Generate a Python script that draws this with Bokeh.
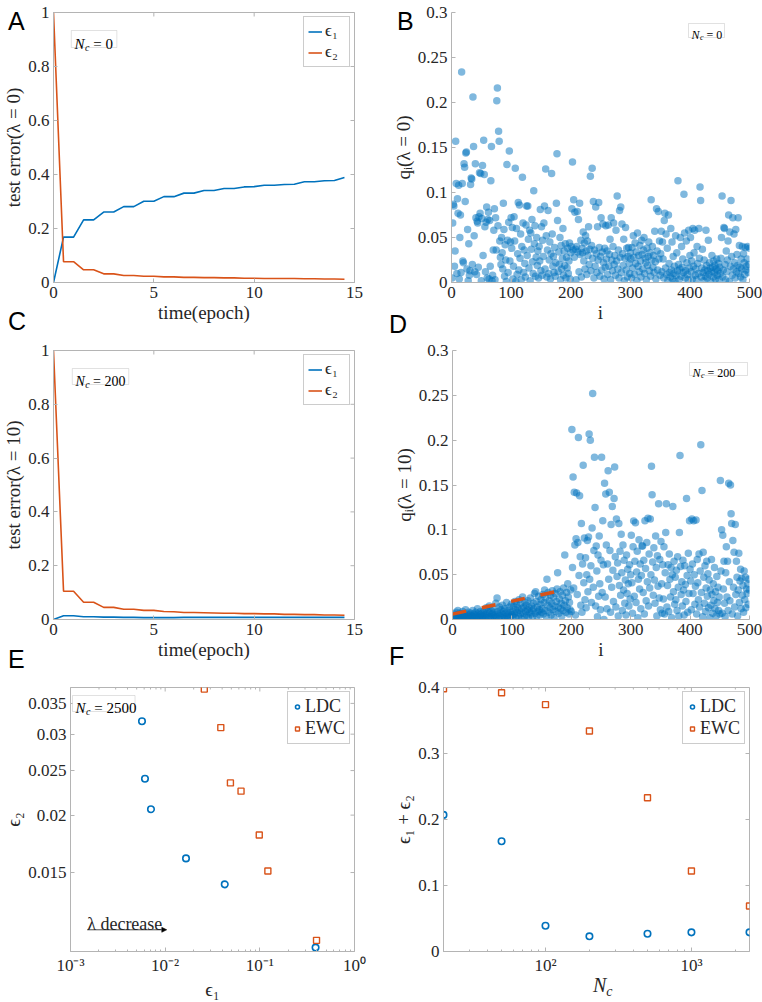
import math
from bokeh.plotting import figure
from bokeh.models import (Range1d, FixedTicker, Label, Legend, Div,
                          LegendItem, BoxAnnotation, Arrow, NormalHead)
from bokeh.layouts import column, row
from bokeh.embed import file_html
from bokeh.resources import INLINE

SERIF = "Liberation Serif"
SANS = "Liberation Sans"
BLUE = "#0072BD"
ORANGE = "#D95319"
AXC = "#b4b4b4"
TXT = "#262626"

# ---------------- data ----------------
epoch = [0, 0.5, 1, 1.5, 2, 2.5, 3, 3.5, 4, 4.5, 5, 5.5, 6, 6.5, 7, 7.5, 8, 8.5, 9, 9.5,
         10, 10.5, 11, 11.5, 12, 12.5, 13, 13.5, 14, 14.5]
a_eps1 = [0, 0.168, 0.168, 0.232, 0.232, 0.261, 0.261, 0.281, 0.281, 0.301, 0.301, 0.318,
          0.318, 0.331, 0.331, 0.341, 0.341, 0.348, 0.348, 0.354, 0.355, 0.360, 0.360, 0.363,
          0.364, 0.373, 0.373, 0.377, 0.378, 0.389]
a_eps2 = [1.0, 0.077, 0.077, 0.047, 0.047, 0.032, 0.032, 0.026, 0.026, 0.023, 0.023, 0.021,
          0.021, 0.019, 0.019, 0.018, 0.018, 0.017, 0.017, 0.016, 0.016, 0.015, 0.015, 0.015,
          0.015, 0.014, 0.014, 0.013, 0.013, 0.012]
c_eps1 = [0, 0.014, 0.014, 0.010, 0.010, 0.009, 0.009, 0.008, 0.008, 0.007, 0.007, 0.007,
          0.007, 0.008, 0.008, 0.008, 0.008, 0.008, 0.008, 0.008, 0.008, 0.008, 0.008, 0.008,
          0.008, 0.008, 0.008, 0.008, 0.008, 0.008]
c_eps2 = [1.0, 0.105, 0.105, 0.064, 0.064, 0.045, 0.045, 0.038, 0.038, 0.034, 0.034, 0.030,
          0.029, 0.026, 0.026, 0.025, 0.024, 0.023, 0.023, 0.022, 0.022, 0.021, 0.021, 0.019,
          0.019, 0.018, 0.018, 0.017, 0.017, 0.016]

q_nc0 = [
    0.005, 0.066, 0.087, 0.085, 0.018, 0.035, 0.157, 0.110, 0.010, 0.093,
    0.077, 0.108, 0.004, 0.050, 0.075, 0.011, 0.234, 0.110, 0.024, 0.022,
    0.132, 0.128, 0.090, 0.144, 0.145, 0.015, 0.059, 0.002, 0.043, 0.008,
    0.013, 0.109, 0.116, 0.115, 0.020, 0.206, 0.151, 0.052, 0.012, 0.132,
    0.072, 0.009, 0.068, 0.066, 0.017, 0.073, 0.122, 0.077, 0.121, 0.002,
    0.071, 0.130, 0.030, 0.158, 0.120, 0.062, 0.012, 0.067, 0.084, 0.005,
    0.070, 0.078, 0.004, 0.069, 0.018, 0.113, 0.151, 0.002, 0.008, 0.036,
    0.058, 0.082, 0.003, 0.072, 0.036, 0.202, 0.216, 0.063, 0.168, 0.157,
    0.046, 0.028, 0.020, 0.050, 0.033, 0.015, 0.088, 0.059, 0.007, 0.042,
    0.025, 0.001, 0.131, 0.047, 0.011, 0.067, 0.146, 0.024, 0.045, 0.072,
    0.038, 0.061, 0.004, 0.018, 0.073, 0.046, 0.127, 0.001, 0.060, 0.009,
    0.032, 0.089, 0.014, 0.086, 0.027, 0.054, 0.003, 0.040, 0.117, 0.066,
    0.011, 0.036, 0.021, 0.006, 0.064, 0.085, 0.030, 0.085, 0.048, 0.016,
    0.058, 0.002, 0.055, 0.037, 0.070, 0.023, 0.010, 0.102, 0.043, 0.063,
    0.007, 0.028, 0.050, 0.019, 0.035, 0.005, 0.040, 0.024, 0.081, 0.013,
    0.062, 0.008, 0.047, 0.029, 0.066, 0.085, 0.015, 0.126, 0.052, 0.006,
    0.036, 0.080, 0.010, 0.025, 0.045, 0.004, 0.032, 0.121, 0.054, 0.018,
    0.029, 0.011, 0.039, 0.007, 0.022, 0.088, 0.143, 0.069, 0.012, 0.034,
    0.020, 0.050, 0.003, 0.041, 0.015, 0.027, 0.060, 0.008, 0.035, 0.019,
    0.043, 0.005, 0.028, 0.016, 0.038, 0.010, 0.024, 0.044, 0.004, 0.033,
    0.040, 0.082, 0.134, 0.036, 0.092, 0.028, 0.078, 0.037, 0.003, 0.040,
    0.079, 0.034, 0.070, 0.012, 0.088, 0.031, 0.047, 0.006, 0.038, 0.033,
    0.056, 0.024, 0.044, 0.015, 0.052, 0.035, 0.009, 0.046, 0.030, 0.062,
    0.020, 0.037, 0.118, 0.013, 0.041, 0.127, 0.027, 0.090, 0.005, 0.036,
    0.018, 0.084, 0.032, 0.011, 0.062, 0.025, 0.089, 0.039, 0.007, 0.029,
    0.072, 0.014, 0.034, 0.065, 0.022, 0.004, 0.038, 0.017, 0.063, 0.026,
    0.035, 0.009, 0.064, 0.018, 0.031, 0.048, 0.003, 0.072, 0.025, 0.013,
    0.040, 0.066, 0.020, 0.030, 0.008, 0.058, 0.024, 0.096, 0.015, 0.036,
    0.005, 0.080, 0.028, 0.084, 0.011, 0.065, 0.032, 0.019, 0.048, 0.002,
    0.027, 0.061, 0.014, 0.038, 0.006, 0.029, 0.039, 0.021, 0.010, 0.033,
    0.026, 0.005, 0.039, 0.016, 0.052, 0.028, 0.009, 0.044, 0.021, 0.034,
    0.002, 0.055, 0.018, 0.030, 0.012, 0.041, 0.024, 0.006, 0.047, 0.031,
    0.015, 0.036, 0.050, 0.010, 0.027, 0.022, 0.003, 0.038, 0.019, 0.029,
    0.045, 0.013, 0.033, 0.007, 0.092, 0.025, 0.040, 0.017, 0.030, 0.011,
    0.057, 0.023, 0.004, 0.082, 0.035, 0.014, 0.079, 0.026, 0.046, 0.008,
    0.032, 0.057, 0.012, 0.045, 0.026, 0.005, 0.069, 0.077, 0.016, 0.054,
    0.009, 0.038, 0.002, 0.075, 0.021, 0.011, 0.006, 0.060, 0.014, 0.045,
    0.004, 0.029, 0.010, 0.018, 0.001, 0.052, 0.008, 0.033, 0.013, 0.113,
    0.020, 0.003, 0.015, 0.050, 0.007, 0.040, 0.017, 0.026, 0.011, 0.098,
    0.055, 0.005, 0.013, 0.046, 0.022, 0.009, 0.003, 0.058, 0.016, 0.030,
    0.050, 0.012, 0.024, 0.004, 0.060, 0.018, 0.033, 0.058, 0.008, 0.015,
    0.003, 0.040, 0.021, 0.010, 0.060, 0.027, 0.106, 0.091, 0.006, 0.016,
    0.037, 0.011, 0.002, 0.025, 0.014, 0.007, 0.058, 0.019, 0.005, 0.013,
    0.047, 0.009, 0.022, 0.016, 0.001, 0.012, 0.030, 0.017, 0.006, 0.024,
    0.011, 0.019, 0.004, 0.015, 0.026, 0.008, 0.013, 0.021, 0.003, 0.017,
    0.010, 0.027, 0.050, 0.096, 0.006, 0.014, 0.061, 0.060, 0.020, 0.003,
    0.035, 0.012, 0.025, 0.046, 0.075, 0.001, 0.056, 0.018, 0.091, 0.029,
    0.008, 0.072, 0.015, 0.054, 0.022, 0.005, 0.059, 0.012, 0.031, 0.019,
    0.072, 0.010, 0.041, 0.017, 0.006, 0.026, 0.015, 0.040, 0.003, 0.032,
    0.022, 0.009, 0.039, 0.014, 0.018, 0.026, 0.040, 0.011, 0.020, 0.038,
]

q_nc200 = [
    0.004, 0.002, 0.006, 0.001, 0.003, 0.008, 0.002, 0.005, 0.010, 0.001,
    0.004, 0.007, 0.002, 0.003, 0.006, 0.001, 0.009, 0.004, 0.002, 0.005,
    0.003, 0.011, 0.001, 0.006, 0.004, 0.002, 0.008, 0.003, 0.005, 0.001,
    0.007, 0.004, 0.002, 0.010, 0.003, 0.006, 0.001, 0.005, 0.008, 0.002,
    0.004, 0.012, 0.003, 0.007, 0.001, 0.005, 0.009, 0.002, 0.006, 0.004,
    0.003, 0.008, 0.001, 0.011, 0.005, 0.002, 0.013, 0.006, 0.004, 0.009,
    0.002, 0.015, 0.007, 0.003, 0.010, 0.001, 0.006, 0.012, 0.004, 0.008,
    0.002, 0.005, 0.018, 0.003, 0.024, 0.009, 0.006, 0.001, 0.014, 0.004,
    0.011, 0.007, 0.002, 0.016, 0.005, 0.009, 0.003, 0.012, 0.001, 0.007,
    0.019, 0.004, 0.010, 0.002, 0.006, 0.014, 0.003, 0.008, 0.017, 0.005,
    0.009, 0.003, 0.015, 0.006, 0.020, 0.011, 0.002, 0.017, 0.008, 0.013,
    0.004, 0.022, 0.010, 0.006, 0.018, 0.001, 0.012, 0.025, 0.007, 0.014,
    0.003, 0.019, 0.009, 0.016, 0.005, 0.011, 0.021, 0.002, 0.013, 0.008,
    0.024, 0.006, 0.015, 0.010, 0.003, 0.018, 0.012, 0.029, 0.007, 0.031,
    0.020, 0.004, 0.014, 0.009, 0.026, 0.011, 0.005, 0.017, 0.022, 0.008,
    0.012, 0.028, 0.006, 0.019, 0.033, 0.010, 0.024, 0.003, 0.045, 0.016,
    0.030, 0.008, 0.021, 0.013, 0.027, 0.005, 0.018, 0.032, 0.011, 0.025,
    0.002, 0.015, 0.029, 0.009, 0.020, 0.034, 0.052, 0.014, 0.007, 0.023,
    0.031, 0.012, 0.018, 0.004, 0.027, 0.010, 0.035, 0.016, 0.072, 0.021,
    0.008, 0.030, 0.013, 0.040, 0.025, 0.006, 0.019, 0.011, 0.033, 0.009,
    0.212, 0.058, 0.159, 0.035, 0.142, 0.083, 0.005, 0.090, 0.141, 0.028,
    0.086, 0.203, 0.049, 0.138, 0.070, 0.016, 0.107, 0.008, 0.062, 0.172,
    0.041, 0.091, 0.022, 0.069, 0.013, 0.050, 0.088, 0.031, 0.092, 0.207,
    0.045, 0.200, 0.060, 0.019, 0.102, 0.252, 0.036, 0.077, 0.181, 0.125,
    0.015, 0.082, 0.054, 0.003, 0.072, 0.026, 0.093, 0.040, 0.011, 0.066,
    0.181, 0.030, 0.110, 0.061, 0.000, 0.152, 0.025, 0.140, 0.083, 0.012,
    0.062, 0.166, 0.045, 0.142, 0.077, 0.008, 0.106, 0.036, 0.126, 0.055,
    0.020, 0.135, 0.170, 0.070, 0.014, 0.112, 0.048, 0.063, 0.004, 0.107,
    0.038, 0.076, 0.027, 0.095, 0.052, 0.010, 0.083, 0.033, 0.066, 0.018,
    0.044, 0.005, 0.072, 0.029, 0.056, 0.040, 0.015, 0.061, 0.023, 0.050,
    0.094, 0.041, 0.007, 0.081, 0.110, 0.026, 0.065, 0.108, 0.019, 0.053,
    0.076, 0.002, 0.045, 0.089, 0.034, 0.062, 0.012, 0.049, 0.082, 0.082,
    0.030, 0.066, 0.006, 0.110, 0.057, 0.021, 0.086, 0.042, 0.113, 0.015,
    0.073, 0.035, 0.112, 0.050, 0.171, 0.139, 0.064, 0.027, 0.080, 0.044,
    0.018, 0.093, 0.058, 0.004, 0.071, 0.037, 0.129, 0.024, 0.067, 0.011,
    0.087, 0.040, 0.007, 0.061, 0.023, 0.081, 0.006, 0.052, 0.097, 0.129,
    0.014, 0.038, 0.061, 0.009, 0.073, 0.045, 0.025, 0.058, 0.002, 0.050,
    0.126, 0.031, 0.065, 0.017, 0.047, 0.022, 0.055, 0.010, 0.070, 0.036,
    0.004, 0.097, 0.183, 0.059, 0.028, 0.042, 0.015, 0.066, 0.033, 0.005,
    0.060, 0.039, 0.020, 0.135, 0.049, 0.008, 0.074, 0.029, 0.110, 0.056,
    0.043, 0.011, 0.112, 0.062, 0.029, 0.110, 0.050, 0.017, 0.037, 0.111,
    0.006, 0.067, 0.041, 0.022, 0.073, 0.014, 0.054, 0.195, 0.030, 0.144,
    0.003, 0.075, 0.047, 0.018, 0.060, 0.009, 0.035, 0.065, 0.026, 0.051,
    0.013, 0.044, 0.002, 0.033, 0.016, 0.067, 0.028, 0.007, 0.040, 0.021,
    0.058, 0.012, 0.031, 0.004, 0.048, 0.019, 0.036, 0.010, 0.025, 0.006,
    0.155, 0.054, 0.100, 0.007, 0.094, 0.034, 0.065, 0.018, 0.003, 0.052,
    0.081, 0.025, 0.065, 0.010, 0.152, 0.042, 0.021, 0.150, 0.118, 0.107,
    0.006, 0.088, 0.036, 0.075, 0.014, 0.106, 0.028, 0.065, 0.047, 0.004,
    0.033, 0.074, 0.019, 0.043, 0.056, 0.012, 0.046, 0.027, 0.038, 0.008,
    0.054, 0.022, 0.047, 0.013, 0.034, 0.029, 0.040, 0.017, 0.045, 0.033,
]
idx = list(range(1, 501))

fit_i = [0, 180]
fit_q = [0.006, 0.032]

e_ldc_eps1 = [0.00569, 0.00612, 0.00708, 0.0166, 0.0426, 0.388]
e_ldc_eps2 = [0.0320, 0.0240, 0.0206, 0.0161, 0.01414, 0.0103]
e_ewc_eps1 = [0.0259, 0.0387, 0.0489, 0.0633, 0.0986, 0.1216, 0.397]
e_ewc_eps2 = [0.0376, 0.0310, 0.0235, 0.02255, 0.0181, 0.01512, 0.01068]

nc_vals = [20, 50, 100, 200, 500, 1000, 2500]
f_ldc = [0.207, 0.167, 0.039, 0.023, 0.027, 0.029, 0.029]
f_ewc = [0.398, 0.392, 0.374, 0.334, 0.233, 0.122, 0.069]

# tick definitions
t_ticks = [0, 5, 10, 15]
err_ticks = [0, 0.2, 0.4, 0.6, 0.8, 1]
i_ticks = [0, 100, 200, 300, 400, 500]
q_ticks = [0, 0.05, 0.1, 0.15, 0.2, 0.25, 0.3]
e1_ticks = [0.001, 0.01, 0.1, 1]
e1_labels = ["10⁻³", "10⁻²", "10⁻¹", "10⁰"]
e1_minor = [m * d for d in (0.001, 0.01, 0.1) for m in range(2, 10)]
e2_ticks = [0.015, 0.02, 0.025, 0.03, 0.035]
nc_ticks = [100, 1000]
nc_labels = ["10²", "10³"]
nc_minor = [20, 30, 40, 50, 60, 70, 80, 90, 200, 300, 400, 500, 600, 700, 800, 900, 2000]
sum_ticks = [0, 0.1, 0.2, 0.3, 0.4]
panel_letters = ["A", "B", "C", "D", "E", "F"]


def fmt(v):
    return format(v, "g")


def style_axis(ax, ticks, labels, minor, standoff):
    ax.ticker = FixedTicker(ticks=ticks, minor_ticks=minor or [])
    ax.major_label_overrides = {t: l for t, l in zip(ticks, labels)}
    ax.major_label_text_font = SERIF
    ax.major_label_text_font_size = "17px"
    ax.major_label_text_color = TXT
    ax.major_label_standoff = standoff
    ax.axis_line_color = AXC
    ax.major_tick_line_color = AXC
    ax.minor_tick_line_color = AXC if minor else None
    ax.major_tick_in = 4
    ax.major_tick_out = 0
    ax.minor_tick_in = 2
    ax.minor_tick_out = 0
    ax.axis_label_text_font = SERIF
    ax.axis_label_text_font_size = "19px"
    ax.axis_label_text_font_style = "normal"
    ax.axis_label_text_color = TXT
    ax.axis_label_standoff = 1


def mirror_ticks(p, spec):
    """inward tick marks on the top and right edges (box style)"""
    top = spec["yr"][1]
    right = spec["xr"][1]
    p.scatter(spec["xt"], [top] * len(spec["xt"]), marker="dash", angle=math.pi / 2,
              size=8, line_color=AXC, line_width=1)
    p.scatter([right] * len(spec["yt"]), spec["yt"], marker="dash", size=8,
              line_color=AXC, line_width=1)
    if spec.get("xm"):
        p.scatter(spec["xm"], [top] * len(spec["xm"]), marker="dash", angle=math.pi / 2,
                  size=4, line_color=AXC, line_width=1)


def make_panel(spec):
    p = figure(width=spec["w"], height=spec["h"],
               x_range=Range1d(*spec["xr"]), y_range=Range1d(*spec["yr"]),
               x_axis_type="log" if spec["xlog"] else "linear",
               y_axis_type="log" if spec["ylog"] else "linear",
               output_backend="svg", toolbar_location=None, tools="",
               min_border_left=spec["bl"], min_border_right=spec["br"],
               min_border_top=spec["bt"], min_border_bottom=spec["bb"])
    p.grid.visible = False
    p.background_fill_color = "white"
    p.border_fill_color = "white"
    p.outline_line_color = AXC if spec["box"] else None
    xa = p.below[0]
    ya = p.left[0]
    style_axis(xa, spec["xt"], spec["xl"], spec.get("xm"), 4)
    style_axis(ya, spec["yt"], spec["yl"], spec.get("ym"), 4)
    xa.axis_label = spec["xlabel"]
    ya.axis_label = spec["ylabel"]
    if spec["box"]:
        mirror_ticks(p, spec)
    spec["W"] = spec["w"] - spec["bl"] - spec["br"]
    spec["H"] = spec["h"] - spec["bt"] - spec["bb"]
    return p


def xd(spec, dx):
    a, b = spec["xr"]
    f = dx / spec["W"]
    if spec["xlog"]:
        return 10 ** (math.log10(a) + f * (math.log10(b) - math.log10(a)))
    return a + f * (b - a)


def yd(spec, dy):
    a, b = spec["yr"]
    f = dy / spec["H"]
    if spec["ylog"]:
        return 10 ** (math.log10(b) - f * (math.log10(b) - math.log10(a)))
    return b - f * (b - a)


def nc_box(p, spec, left, top, w, h, val, fs):
    p.add_layout(BoxAnnotation(left=xd(spec, left), right=xd(spec, left + w),
                               top=yd(spec, top), bottom=yd(spec, top + h),
                               fill_color="white", fill_alpha=1.0,
                               line_color="#9a9a9a", line_width=1))
    x0 = spec["xr"][0]
    y0 = spec["yr"][1]
    bx = left + 3
    base = -(top + h * 0.80)
    p.add_layout(Label(x=x0, y=y0, x_offset=bx, y_offset=base, text="N",
                       text_font=SERIF, text_font_style="italic", text_font_size=f"{fs}px",
                       text_color="black", text_baseline="alphabetic"))
    p.add_layout(Label(x=x0, y=y0, x_offset=bx + fs * 0.70, y_offset=base - fs * 0.22, text="c",
                       text_font=SERIF, text_font_style="italic",
                       text_font_size=f"{round(fs * 0.68)}px",
                       text_color="black", text_baseline="alphabetic"))
    p.add_layout(Label(x=x0, y=y0, x_offset=bx + fs * 1.25, y_offset=base, text="= " + val,
                       text_font=SERIF, text_font_size=f"{fs}px",
                       text_color="black", text_baseline="alphabetic"))


def legend(p, items, fs, gw):
    lg = Legend(items=items, location="top_right", margin=4, padding=4, spacing=1,
                label_text_font=SERIF, label_text_font_size=f"{fs}px",
                label_text_color=TXT, glyph_width=gw, glyph_height=15,
                label_standoff=3, label_height=15,
                border_line_color="#9a9a9a", background_fill_alpha=1.0)
    p.add_layout(lg)


# ---------------- panel A ----------------
sA = dict(w=381, h=335, bl=50, br=27, bt=12, bb=53, xr=(0, 15), yr=(0, 1), xlog=False,
          ylog=False, box=True, xt=t_ticks, xl=[fmt(v) for v in t_ticks], yt=err_ticks,
          yl=[fmt(v) for v in err_ticks], xlabel="time(epoch)", ylabel="test error(λ = 0)")
pA = make_panel(sA)
lA1 = pA.line(epoch, a_eps1, line_color=BLUE, line_width=1.6)
lA2 = pA.line(epoch, a_eps2, line_color=ORANGE, line_width=1.6)
legend(pA, [LegendItem(label="ϵ₁", renderers=[lA1]), LegendItem(label="ϵ₂", renderers=[lA2])], 17, 14)
nc_box(pA, sA, 18, 18, 46, 17, "0", 15)

# ---------------- panel B ----------------
sB = dict(w=381, h=335, bl=70, br=13, bt=12, bb=53, xr=(0, 500), yr=(0, 0.3), xlog=False,
          ylog=False, box=False, xt=i_ticks, xl=[fmt(v) for v in i_ticks], yt=q_ticks,
          yl=[fmt(v) for v in q_ticks], xlabel="i", ylabel="qᵢ(λ = 0)")
pB = make_panel(sB)
pB.scatter(idx, q_nc0, size=7.5, fill_color=BLUE, fill_alpha=0.5, line_color=None)
nc_box(pB, sB, sB["W"] - 25 - 36, 11, 36, 14, "0", 12)

# ---------------- panel C ----------------
sC = dict(w=381, h=333, bl=50, br=27, bt=15, bb=49, xr=(0, 15), yr=(0, 1), xlog=False,
          ylog=False, box=True, xt=t_ticks, xl=[fmt(v) for v in t_ticks], yt=err_ticks,
          yl=[fmt(v) for v in err_ticks], xlabel="time(epoch)", ylabel="test error(λ = 10)")
pC = make_panel(sC)
lC1 = pC.line(epoch, c_eps1, line_color=BLUE, line_width=1.6)
lC2 = pC.line(epoch, c_eps2, line_color=ORANGE, line_width=1.6)
legend(pC, [LegendItem(label="ϵ₁", renderers=[lC1]), LegendItem(label="ϵ₂", renderers=[lC2])], 17, 14)
nc_box(pC, sC, 19, 18, 57, 16, "200", 14)

# ---------------- panel D ----------------
sD = dict(w=381, h=333, bl=71, br=13, bt=15, bb=49, xr=(0, 500), yr=(0, 0.3), xlog=False,
          ylog=False, box=False, xt=i_ticks, xl=[fmt(v) for v in i_ticks], yt=q_ticks,
          yl=[fmt(v) for v in q_ticks], xlabel="i", ylabel="qᵢ(λ = 10)")
pD = make_panel(sD)
pD.scatter(idx, q_nc200, size=7.5, fill_color=BLUE, fill_alpha=0.5, line_color=None)
pD.line(fit_i, fit_q, line_color=ORANGE, line_width=3.5, line_dash="14 16")
nc_box(pD, sD, sD["W"] - 2 - 58, 12, 58, 13, "200", 12)

# ---------------- panel E ----------------
sE = dict(w=381, h=334, bl=68, br=27, bt=19, bb=51, xr=(0.001, 1), yr=(0.0101, 0.0379),
          xlog=True, ylog=True, box=True, xt=e1_ticks, xl=e1_labels, xm=e1_minor,
          yt=e2_ticks, yl=[fmt(v) for v in e2_ticks], xlabel="ϵ₁", ylabel="ϵ₂")
pE = make_panel(sE)
rE1 = pE.scatter(e_ldc_eps1, e_ldc_eps2, marker="circle", size=6.5, fill_color=None,
                 line_color=BLUE, line_width=1.6)
rE2 = pE.scatter(e_ewc_eps1, e_ewc_eps2, marker="square", size=6, fill_color=None,
                 line_color=ORANGE, line_width=1.4)
legend(pE, [LegendItem(label="LDC", renderers=[rE1]), LegendItem(label="EWC", renderers=[rE2])], 18, 10)
nc_box(pE, sE, 2, 8, 63, 16, "2500", 15)
pE.add_layout(Arrow(end=NormalHead(size=5, fill_color="black", line_color="black", line_width=0.5),
                    x_start=0.0015, y_start=0.01126, x_end=0.0104, y_end=0.01126,
                    line_color="black", line_width=0.7))
pE.add_layout(Label(x=0.0015, y=0.01158, text="λ decrease", text_font=SERIF,
                    text_font_size="18px", text_color=TXT, text_baseline="alphabetic"))

# ---------------- panel F ----------------
sF = dict(w=381, h=334, bl=62, br=13, bt=19, bb=50, xr=(20, 2500), yr=(0, 0.4),
          xlog=True, ylog=False, box=True, xt=nc_ticks, xl=nc_labels, xm=nc_minor,
          yt=sum_ticks, yl=[fmt(v) for v in sum_ticks], xlabel=None, ylabel="ϵ₁ + ϵ₂")
pF = make_panel(sF)
rF1 = pF.scatter(nc_vals, f_ldc, marker="circle", size=6.5, fill_color=None,
                 line_color=BLUE, line_width=1.6)
rF2 = pF.scatter(nc_vals, f_ewc, marker="square", size=6, fill_color=None,
                 line_color=ORANGE, line_width=1.4)
legend(pF, [LegendItem(label="LDC", renderers=[rF1]), LegendItem(label="EWC", renderers=[rF2])], 18, 10)

# ---------------- overlay texts outside the plot frames ----------------
letter_pos = [(3, 4), (392, 4), (3, 304), (384, 307), (3, 642), (384, 639)]
spans = []
for t, (lx, ty) in zip(panel_letters, letter_pos):
    spans.append(
        f'<span style="position:absolute;left:{lx}px;top:{ty}px;font-family:\'{SANS}\';'
        f'font-size:25px;line-height:1;color:#000;white-space:nowrap;">{t}</span>')
spans.append(
    f'<span style="position:absolute;left:588px;top:970px;font-family:\'{SERIF}\';'
    f'font-size:20px;line-height:1;font-style:italic;color:{TXT};white-space:nowrap;">'
    f'N<span style="font-size:14px;position:relative;top:4px;">c</span></span>')
overlay = Div(text="".join(spans), width=0, height=0,
              styles={"position": "absolute", "left": "0px", "top": "0px",
                      "z-index": "10", "overflow": "visible", "pointer-events": "none"})

layout = column(overlay, row(pA, pB), row(pC, pD), row(pE, pF))
open("out.html", "w").write(file_html(layout, INLINE))
